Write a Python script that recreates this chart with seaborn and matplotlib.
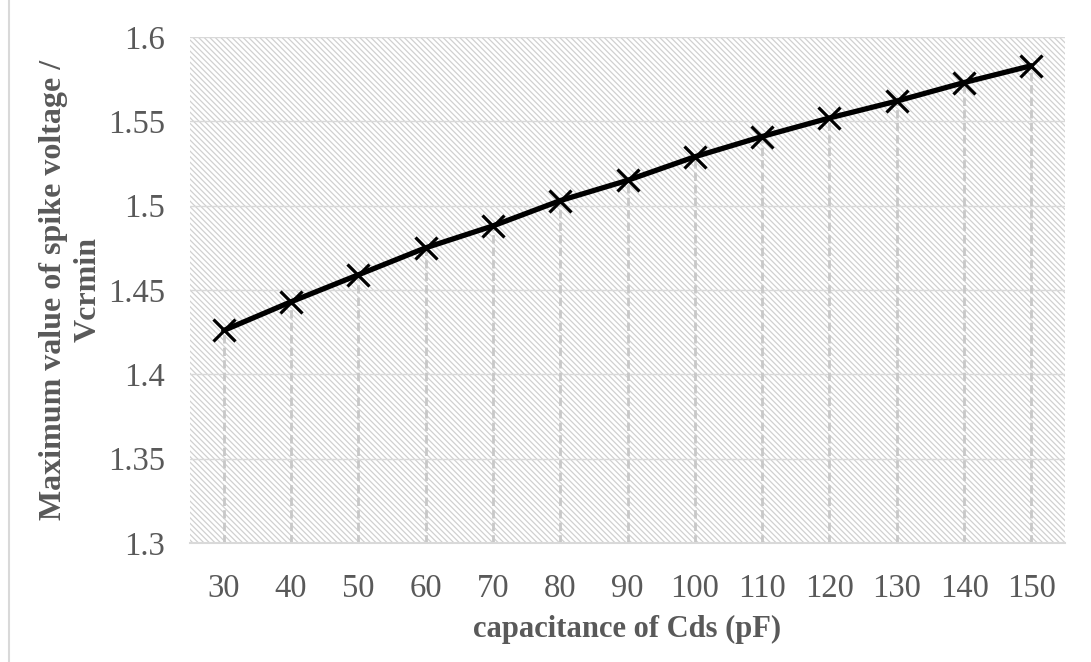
import matplotlib
matplotlib.use("Agg")
import matplotlib.pyplot as plt
from matplotlib.patches import Rectangle
from matplotlib.lines import Line2D
import seaborn as sns
import pandas as pd

# Capacitance of Cds (pF) and the normalised spike-voltage peak
capacitance = [30, 40, 50, 60, 70, 80, 90, 100, 110, 120, 130, 140, 150]
spike_ratio = [1.426, 1.443, 1.459, 1.475, 1.488, 1.503, 1.515,
               1.529, 1.541, 1.552, 1.562, 1.573, 1.583]
y_ticks = [1.3, 1.35, 1.4, 1.45, 1.5, 1.55, 1.6]
y_tick_labels = ["1.3", "1.35", "1.4", "1.45", "1.5", "1.55", "1.6"]

df = pd.DataFrame({"cap": capacitance, "ratio": spike_ratio})

sns.set_theme(style="white")
plt.rcParams["font.family"] = ["Liberation Serif", "DejaVu Serif"]
plt.rcParams["hatch.linewidth"] = 0.9

text_col = "#595959"
grid_col = "#d9d9d9"

fig = plt.figure(figsize=(10.91, 6.62), dpi=100)
ax = fig.add_axes([0.1742, 0.1798, 0.802, 0.7643])

# hatched plot-area background
bg = Rectangle((0, 0), 1, 1, transform=ax.transAxes, facecolor="white",
               edgecolor="#d0d0d0", linewidth=0, hatch="\\\\\\\\\\\\",
               zorder=0.1)
ax.add_patch(bg)

ax.set_xlim(25, 155)
ax.set_ylim(1.3, 1.6)
ax.set_axisbelow(True)
ax.yaxis.grid(True, color=grid_col, linewidth=1.0)
ax.xaxis.grid(False)

# dashed drop lines from each point to the axis
ax.vlines(df["cap"], 1.3, df["ratio"], colors="#c8c8c8", linewidth=2.0,
          linestyles=(0, (3.0, 1.5)), zorder=1)

sns.lineplot(data=df, x="cap", y="ratio", ax=ax, color="black",
             linewidth=3.8, marker="x", markersize=16, markeredgewidth=2.3,
             markeredgecolor="black", zorder=3)

ax.set_xticks(capacitance)
ax.set_xticklabels([str(c) for c in capacitance])
ax.set_yticks(y_ticks)
ax.set_yticklabels(y_tick_labels)
ax.tick_params(axis="both", length=0, labelsize=23.5, colors=text_col)
ax.tick_params(axis="x", pad=22)
ax.tick_params(axis="y", pad=18)

for side in ["top", "right", "left"]:
    ax.spines[side].set_visible(False)
ax.spines["bottom"].set_color(grid_col)
ax.spines["bottom"].set_linewidth(1.5)

ax.set_xlabel("capacitance of Cds (pF)", fontsize=22, fontweight="bold",
              color=text_col, labelpad=8)
ax.set_ylabel("Maximum value of spike voltage /\nVcrmin", fontsize=23,
              fontweight="bold", color=text_col, labelpad=4,
              linespacing=1.25)

# outer chart frame edge on the left
fig.add_artist(Line2D([0.0082, 0.0082], [0, 1], color=grid_col,
                      linewidth=1.5, transform=fig.transFigure))

fig.savefig("out.png", dpi=100)
